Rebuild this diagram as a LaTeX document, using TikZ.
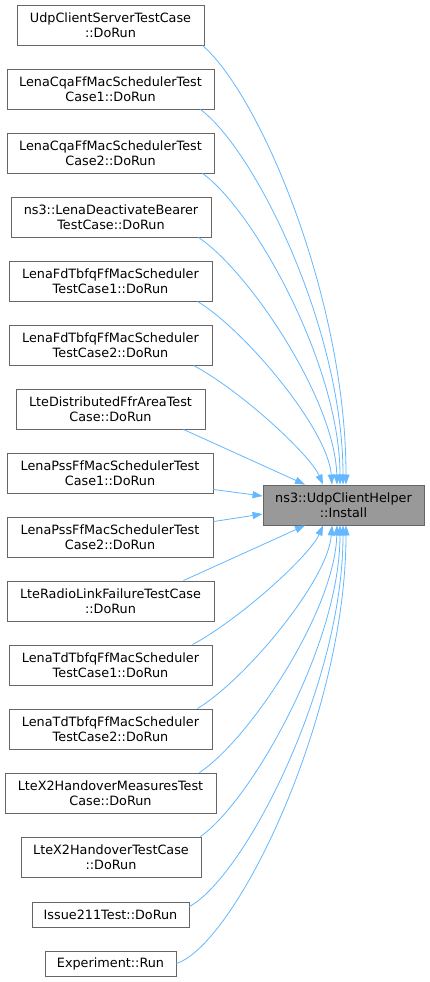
\documentclass[tikz,border=0pt]{standalone}
\usepackage{fontspec}
\newfontfamily\dvfont{DejaVu Sans}
\usetikzlibrary{arrows.meta,calc}
\definecolor{edgeblue}{HTML}{63B8FF}
\definecolor{boxborder}{HTML}{666666}
\definecolor{targetfill}{HTML}{999999}
\tikzset{
  fbox/.style={draw=boxborder, line width=0.9pt, fill=white, inner sep=0pt, align=center,
     font=\dvfont\fontsize{12.8}{15}\selectfont, minimum height=40pt},
  sbox/.style={fbox, minimum height=25pt},
  tbox/.style={fbox, fill=targetfill},
  edge/.style={draw=edgeblue, line width=0.8pt, -{Triangle[length=10pt,width=7pt]}}
}
\begin{document}
\begin{tikzpicture}[x=1pt,y=-1pt]
\fill[white] (0,0) rectangle (429,982);
\useasboundingbox (0,0) rectangle (429,982);
\node[fbox, minimum width=187pt] (b1) at (110.5,25) {UdpClientServerTestCase\\::DoRun};
\node[fbox, minimum width=207pt] (b2) at (110.5,89) {LenaCqaFfMacSchedulerTest\\Case1::DoRun};
\node[fbox, minimum width=207pt] (b3) at (110.5,153) {LenaCqaFfMacSchedulerTest\\Case2::DoRun};
\node[fbox, minimum width=200pt] (b4) at (111,217) {ns3::LenaDeactivateBearer\\TestCase::DoRun};
\node[fbox, minimum width=203pt] (b5) at (110.5,281) {LenaFdTbfqFfMacScheduler\\TestCase1::DoRun};
\node[fbox, minimum width=203pt] (b6) at (110.5,345) {LenaFdTbfqFfMacScheduler\\TestCase2::DoRun};
\node[fbox, minimum width=189pt] (b7) at (110.5,409) {LteDistributedFfrAreaTest\\Case::DoRun};
\node[fbox, minimum width=206pt] (b8) at (110,473) {LenaPssFfMacSchedulerTest\\Case1::DoRun};
\node[fbox, minimum width=206pt] (b9) at (110,537) {LenaPssFfMacSchedulerTest\\Case2::DoRun};
\node[fbox, minimum width=207pt] (b10) at (110.5,601) {LteRadioLinkFailureTestCase\\::DoRun};
\node[fbox, minimum width=203pt] (b11) at (110.5,665) {LenaTdTbfqFfMacScheduler\\TestCase1::DoRun};
\node[fbox, minimum width=203pt] (b12) at (110.5,729) {LenaTdTbfqFfMacScheduler\\TestCase2::DoRun};
\node[fbox, minimum width=211pt] (b13) at (110.5,793) {LteX2HandoverMeasuresTest\\Case::DoRun};
\node[fbox, minimum width=180pt] (b14) at (111,857) {LteX2HandoverTestCase\\::DoRun};
\node[sbox, minimum width=157pt] (b15) at (110.5,914.5) {Issue211Test::DoRun};
\node[sbox, minimum width=131pt] (b16) at (110.5,963.5) {Experiment::Run};
\node[tbox, minimum width=161pt] (t) at (343.5,505) {ns3::UdpClientHelper\\::Install};

\draw[edge] ([xshift=-2pt]b1.south east) .. controls +(58,50) and +(0,-185) .. ([xshift=2.5pt]t.north);
\draw[edge] ([xshift=-14pt]b2.south east) .. controls +(55,41) and +(0,-155) .. ([xshift=-0.5pt]t.north);
\draw[edge] ([xshift=-12pt]b3.south east) .. controls +(50,35) and +(0,-120) .. ([xshift=-3.5pt]t.north);
\draw[edge] ([xshift=-13pt]b4.south east) .. controls +(50,33) and +(-2,-85) .. ([xshift=-6.5pt]t.north);
\draw[edge] ([xshift=-15pt]b5.south east) .. controls +(48,29) and +(-4,-55) .. ([xshift=-11.5pt]t.north);
\draw[edge] ([xshift=-19pt]b6.south east) .. controls +(47,25) and +(-13,-30) .. ([xshift=-20.5pt]t.north);
\draw[edge] ([xshift=-22pt]b7.south east) -- ([xshift=-38.5pt]t.north);
\draw[edge] ([yshift=4pt]b8.south east) -- ([yshift=9pt]t.west);
\draw[edge] ([yshift=-5pt]b9.north east) -- ([yshift=-9pt]t.west);
\draw[edge] ([xshift=-31pt]b10.north east) -- ([xshift=-38.5pt]t.south);
\draw[edge] ([xshift=-20pt]b11.north east) .. controls +(47,-25) and +(-13,30) .. ([xshift=-20.5pt]t.south);
\draw[edge] ([xshift=-15pt]b12.north east) .. controls +(48,-29) and +(-4,55) .. ([xshift=-11.5pt]t.south);
\draw[edge] ([xshift=-17pt]b13.north east) .. controls +(50,-33) and +(-2,85) .. ([xshift=-6.5pt]t.south);
\draw[edge] ([xshift=-1pt]b14.north east) .. controls +(50,-35) and +(0,120) .. ([xshift=-3.5pt]t.south);
\draw[edge] ([yshift=8pt]b15.east) .. controls +(55,-30) and +(0,160) .. ([xshift=-0.5pt]t.south);
\draw[edge] (b16.east) .. controls +(60,-20) and +(0,190) .. ([xshift=2.5pt]t.south);
\end{tikzpicture}
\end{document}
